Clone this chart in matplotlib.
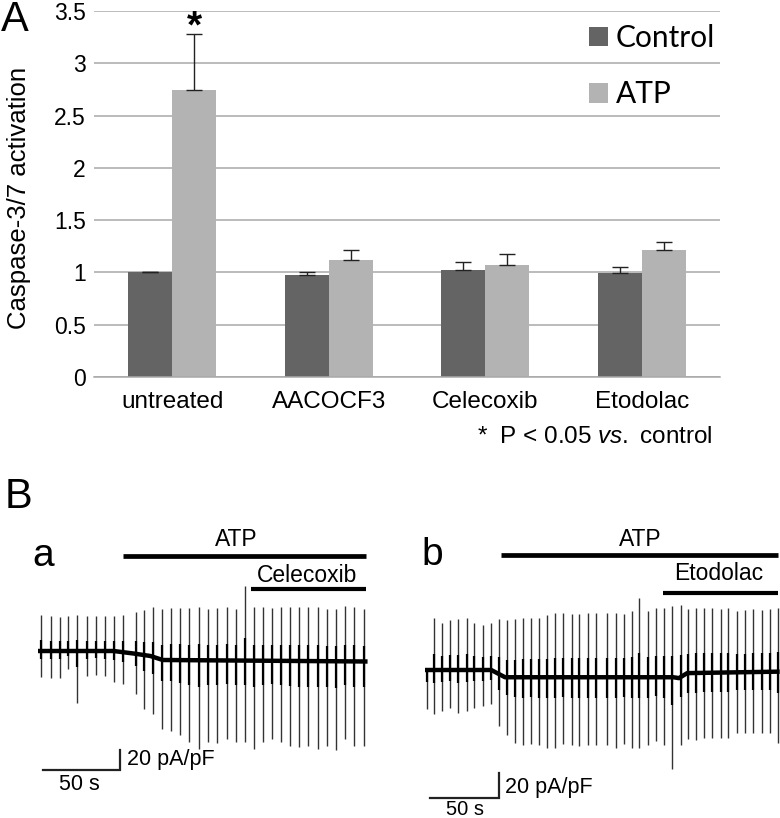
import numpy as np
import matplotlib
matplotlib.use("Agg")
import matplotlib.pyplot as plt

plt.rcParams['font.family'] = ['Liberation Sans', 'DejaVu Sans']
plt.rcParams['mathtext.fontset'] = 'custom'
plt.rcParams['mathtext.it'] = 'Liberation Sans:italic'
plt.rcParams['mathtext.rm'] = 'Liberation Sans'

# ---------------- Panel A data ----------------
categories = ["untreated", "AACOCF3", "Celecoxib", "Etodolac"]
control_mean = [1.00, 0.975, 1.02, 0.997]
control_err = [0.005, 0.03, 0.077, 0.055]
atp_mean = [2.74, 1.12, 1.075, 1.215]
atp_err = [0.54, 0.09, 0.10, 0.074]
yticks = [0, 0.5, 1, 1.5, 2, 2.5, 3, 3.5]
ytick_labels = ["0", "0.5", "1", "1.5", "2", "2.5", "3", "3.5"]

# ---------------- Panel B data (time in s, current in pA/pF) ----------------
a_spike_t = [1.9, 8.4, 14.3, 19.7, 25.5, 31.6, 37.7, 43.7, 49.5, 55.4, 63.4, 69.0,
             74.9, 80.7, 86.4, 92.2, 98.3, 104.5, 110.6, 116.4, 122.5, 128.4, 134.2,
             140.5, 146.3, 151.8, 157.6, 163.6, 169.3, 175.5, 182.0, 187.9, 193.5,
             199.5, 205.4, 211.9]
a_spike_top = [36, 35, 34, 35, 36, 35, 35, 35, 35, 36, 39, 41, 44, 42, 43, 43, 43, 44,
               42, 43, 44, 42, 65, 44, 44, 43, 44, 44, 44, 44, 44, 42, 42, 45, 44, 42]
a_spike_bottom = [-26, -27, -27, -18, -52, -25, -24, -25, -31, -33, -43, -58, -63, -78,
                  -80, -84, -91, -98, -91, -92, -88, -91, -91, -98, -91, -88, -91, -95,
                  -96, -95, -98, -95, -99, -88, -95, -95]
a_base_t = [0, 49, 62, 73, 81, 127, 214]
a_base_i = [0, 0, -2.5, -5, -9, -9.5, -10.5]
a_atp = (55, 213)
a_drug = (138, 213)

b_spike_t = [1.2, 6.5, 12.5, 18.1, 24.1, 30.2, 35.7, 41.8, 47.6, 53.4, 59.2, 65.2, 70.8,
             76.6, 82.6, 88.6, 94.4, 100.2, 106.3, 111.8, 117.9, 123.9, 132.1, 138.2,
             144.2, 149.8, 155.3, 161.8, 167.4, 173.2, 179.2, 185.3, 190.8, 196.4, 202.4,
             208.2, 214.3, 219.8, 225.9, 231.9, 238.0, 244.0, 250.0, 256.0]
b_spike_top = [0, 42, 38, 40, 41, 42, 38, 36, 38, 41, 40, 41, 42, 42, 42, 44, 46, 46, 45,
               45, 46, 46, 46, 46, 45, 47, 58, 47, 50, 50, 51, 52, 49, 50, 50, 50, 49, 50,
               47, 48, 49, 48, 49, 50]
b_spike_bottom = [-31, -35, -33, -30, -34, -33, -30, -29, -27, -45, -52, -58, -60, -59,
                  -60, -62, -62, -59, -60, -61, -60, -60, -60, -62, -59, -62, -62, -60,
                  -57, -60, -79, -60, -55, -56, -54, -54, -54, -54, -50, -50, -50, -50,
                  -50, -58]
b_base_t = [0, 48, 58, 180, 184, 190, 257]
b_base_i = [0, 0, -5.8, -5.8, -6.5, -2.5, -1.3]
b_atp = (55, 256)
b_drug = (172.5, 256)

W, H = 780, 818
fig = plt.figure(figsize=(W / 100, H / 100), dpi=100)

def fx(px):
    return px / W

def fy(py):
    return 1 - py / H

# ---------------- Panel A ----------------
CTRL = '#646464'
ATPC = '#b3b3b3'
ax = fig.add_axes([fx(94), fy(377), (720 - 94) / W, (377 - 11) / H])
x = np.arange(len(categories)) + 0.5
bw = 0.28
zeros = np.zeros(len(categories))
ax.bar(x - bw / 2, control_mean, bw, color=CTRL, label='Control', zorder=2)
ax.bar(x + bw / 2, atp_mean, bw, color=ATPC, label='ATP', zorder=2)
ax.errorbar(x - bw / 2, control_mean, yerr=[zeros, control_err], fmt='none',
            ecolor='#222222', elinewidth=1.0, capsize=5.5, capthick=1.0, zorder=3)
ax.errorbar(x + bw / 2, atp_mean, yerr=[zeros, atp_err], fmt='none',
            ecolor='#222222', elinewidth=1.0, capsize=5.5, capthick=1.0, zorder=3)
ax.set_xlim(0, 4)
ax.set_ylim(0, 3.5)
ax.set_yticks(yticks)
ax.set_yticklabels(ytick_labels, fontsize=16.5)
ax.set_xticks(x)
ax.set_xticklabels(categories, fontsize=17.5)
ax.tick_params(axis='both', length=0)
ax.tick_params(axis='y', pad=6)
ax.tick_params(axis='x', pad=10)
ax.yaxis.grid(True, color='#a8a8a8', lw=1.1)
ax.set_axisbelow(True)
for s in ['left', 'right', 'top']:
    ax.spines[s].set_visible(False)
ax.spines['bottom'].set_color('#a8a8a8')
ax.spines['bottom'].set_linewidth(1.1)
ax.set_ylabel('Caspase-3/7 activation', fontsize=18.5)
ax.yaxis.set_label_coords(-0.1, 0.49)
ax.text(x[0] + bw / 2, atp_mean[0] + atp_err[0] + 0.06, '*', ha='center', va='center',
        fontsize=28, fontweight='bold')
leg = ax.legend(loc='upper left', bbox_to_anchor=(fx(589), fy(24)),
                bbox_transform=fig.transFigure, frameon=False,
                prop={'family': 'Lato', 'size': 21.5}, handlelength=0.65,
                handleheight=0.65, handletextpad=0.25, labelspacing=0.95,
                borderpad=0, borderaxespad=0)
fig.text(fx(713), fy(437), r'*  P < 0.05 $\it{vs.}$ control', ha='right', va='center',
         fontsize=17.5)
fig.text(fx(15), fy(20), 'A', ha='center', va='center', fontsize=30)
fig.text(fx(18), fy(497), 'B', ha='center', va='center', fontsize=30)

# ---------------- Panel B ----------------
def trace_axes(left, right, top, bottom, x0, pps, y0, ppu):
    a = fig.add_axes([fx(left), fy(bottom), (right - left) / W, (bottom - top) / H])
    a.set_xlim((left - x0) / pps, (right - x0) / pps)
    a.set_ylim((y0 - bottom) / ppu, (y0 - top) / ppu)
    a.axis('off')
    return a

def draw_trace(a, st, stop, sbot, bt, bi, atp, drug, drug_name, atp_lbl_y, bar_y,
               drug_lbl_y, drug_bar_y, sb_t0, sb_y, lbl_adj):
    st = np.asarray(st, float)
    base = np.interp(st, bt, bi)
    top = np.asarray(stop, float)
    bot = np.asarray(sbot, float)
    a.vlines(st, bot, top, colors='#333333', lw=1.0, zorder=2)
    a.vlines(st, base + 0.3 * (bot - base), base + 0.3 * (top - base),
             colors='black', lw=1.6, zorder=3)
    a.plot(bt, bi, color='black', lw=3.2, solid_capstyle='butt', zorder=4)
    a.plot(atp, [bar_y, bar_y], color='black', lw=3.4, solid_capstyle='butt')
    a.text((atp[0] + atp[1]) / 2 + lbl_adj[0], atp_lbl_y, 'ATP', ha='center',
           va='center', fontsize=16.5)
    a.plot(drug, [drug_bar_y, drug_bar_y], color='black', lw=3.0, solid_capstyle='butt')
    a.text((drug[0] + drug[1]) / 2 + lbl_adj[1], drug_lbl_y, drug_name, ha='center',
           va='center', fontsize=16.5)
    # scale bars: 50 s, 20 pA/pF
    a.plot([sb_t0, sb_t0 + 50, sb_t0 + 50], [sb_y, sb_y, sb_y + 20],
           color='#222222', lw=1.6, solid_joinstyle='miter')
    return a

axa = trace_axes(25, 390, 525, 818, 38, 1.54, 651, 1.0)
draw_trace(axa, a_spike_t, a_spike_top, a_spike_bottom, a_base_t, a_base_i,
           a_atp, a_drug, 'Celecoxib', 111, 95, 75, 62, 3.2, -119, (-5, -0.5))
axa.text(57.5, -109, '20 pA/pF', ha='left', va='center', fontsize=15.5)
axa.text(27, -134, '50 s', ha='center', va='center', fontsize=15.5)

axb = trace_axes(400, 780, 525, 818, 425, 1.38, 670, 1.25)
draw_trace(axb, b_spike_t, b_spike_top, b_spike_bottom, b_base_t, b_base_i,
           b_atp, b_drug, 'Etodolac', 104, 92, 77, 61.6, 3.6, -102.4, (0.5, -1.5))
axb.text(58, -93.6, '20 pA/pF', ha='left', va='center', fontsize=15.5)
axb.text(29, -111.8, '50 s', ha='center', va='center', fontsize=14.5)

fig.text(fx(43), fy(556), 'a', ha='center', va='center', fontsize=28)
fig.text(fx(432), fy(555), 'b', ha='center', va='center', fontsize=28)

fig.savefig('out.png', dpi=100)
